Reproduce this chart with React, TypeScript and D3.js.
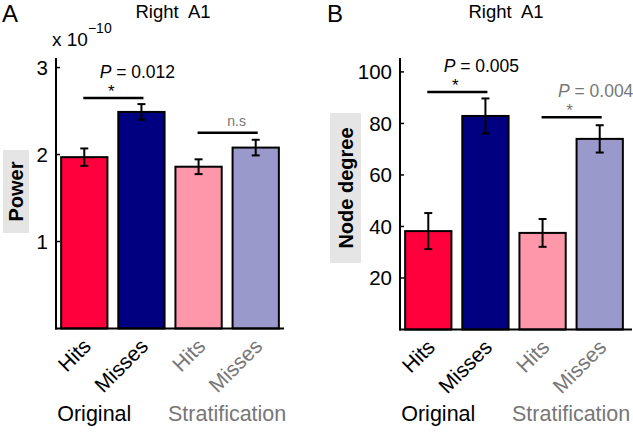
import React from "react";
import * as d3 from "d3";

const categories = ["Hits", "Misses", "Hits", "Misses"];
const groups = ["Original", "Stratification"];
const powerValues = [1.97, 2.49, 1.86, 2.08];
const powerErrors = [0.10, 0.09, 0.085, 0.09];
const powerTicks = [1, 2, 3];
const degreeValues = [38.2, 82.9, 37.5, 74.0];
const degreeErrors = [7.0, 6.8, 5.4, 5.3];
const degreeTicks = [20, 40, 60, 80, 100];
const powerSig = [
  { from: 0, to: 1, level: 2.65, star: true, p: "0.012", grey: false },
  { from: 2, to: 3, level: 2.25, star: false, p: "", grey: true },
];
const degreeSig = [
  { from: 0, to: 1, level: 92.2, star: true, p: "0.005", grey: false },
  { from: 2, to: 3, level: 82.4, star: true, p: "0.004", grey: true },
];

const barColors = ["#FF003C", "#000080", "#FF97AB", "#9999CC"];
const GREY = "#777777";
const FONT = "'Liberation Sans', Arial, Helvetica, sans-serif";

type Sig = { from: number; to: number; level: number; star: boolean; p: string; grey: boolean };

function Panel(props: {
  letter: string;
  letterX: number;
  axisX: number;
  axisEnd: number;
  yTop: number;
  yBase: number;
  yMax: number;
  values: number[];
  errors: number[];
  ticks: number[];
  sig: Sig[];
  ylabel: string;
  labelBox: [number, number, number, number];
  titleX: number;
  exponent: boolean;
}) {
  const { axisX, axisEnd, yTop, yBase, yMax, values, errors, ticks, sig, ylabel, labelBox, titleX } = props;
  const x = d3
    .scaleBand<number>()
    .domain(d3.range(categories.length))
    .range([axisX, axisX + 228])
    .paddingInner(0.19)
    .paddingOuter(0.09);
  const y = d3.scaleLinear().domain([0, yMax]).range([yBase, yTop]);
  const bw = x.bandwidth();
  const cx = (i: number) => (x(i) as number) + bw / 2;
  const [bx, by, bwid, bh] = labelBox;
  return (
    <g fontFamily={FONT}>
      <text x={props.letterX} y={22} fontSize={24}>
        {props.letter}
      </text>
      <text x={titleX} y={18} fontSize={18.5} textAnchor="middle" style={{ whiteSpace: "pre" }}>
        {"Right  A1"}
      </text>
      {props.exponent && (
        <text x={axisX - 4} y={46} fontSize={19}>
          x 10
          <tspan dy={-13} fontSize={14}>
            −10
          </tspan>
        </text>
      )}
      {/* y label box */}
      <rect x={bx} y={by} width={bwid} height={bh} fill="#E5E5E5" />
      <text
        transform={`translate(${bx + bwid / 2 + 7},${by + bh / 2}) rotate(-90)`}
        textAnchor="middle"
        fontSize={20}
        fontWeight="bold"
      >
        {ylabel}
      </text>
      {/* bars */}
      {values.map((v, i) => (
        <rect
          key={i}
          x={x(i)}
          y={y(v)}
          width={bw}
          height={y(0) - y(v)}
          fill={barColors[i]}
          stroke="#000"
          strokeWidth={2}
        />
      ))}
      {/* error bars */}
      {values.map((v, i) => (
        <g key={"e" + i} stroke="#000" strokeWidth={2}>
          <line x1={cx(i)} x2={cx(i)} y1={y(v - errors[i])} y2={y(v + errors[i])} />
          <line x1={cx(i) - 4} x2={cx(i) + 4} y1={y(v - errors[i])} y2={y(v - errors[i])} />
          <line x1={cx(i) - 4} x2={cx(i) + 4} y1={y(v + errors[i])} y2={y(v + errors[i])} />
        </g>
      ))}
      {/* axes */}
      <line x1={axisX} x2={axisX} y1={yTop} y2={yBase + 1} stroke="#000" strokeWidth={2} />
      <line x1={axisX - 1} x2={axisEnd} y1={yBase} y2={yBase} stroke="#000" strokeWidth={2} />
      {ticks.map((t) => (
        <g key={t}>
          <line x1={axisX} x2={axisX + 4} y1={y(t)} y2={y(t)} stroke="#000" strokeWidth={1.5} />
          <text x={axisX - 8} y={y(t)} dy="0.36em" textAnchor="end" fontSize={20.5}>
            {t}
          </text>
        </g>
      ))}
      {/* category labels */}
      {categories.map((c, i) => (
        <text
          key={"c" + i}
          transform={`translate(${cx(i) + 8},${yBase + 19}) rotate(-45)`}
          textAnchor="end"
          fontSize={21}
          fill={i < 2 ? "#000" : GREY}
        >
          {c}
        </text>
      ))}
      <text x={cx(0) + 10} y={421} textAnchor="middle" fontSize={21.5} fill="#000">
        {groups[0]}
      </text>
      <text x={(cx(2) + cx(3)) / 2} y={421} textAnchor="middle" fontSize={21.5} fill={GREY}>
        {groups[1]}
      </text>
      {/* significance */}
      {sig.map((s, k) => {
        const x1 = cx(s.from) - 1;
        const x2 = cx(s.to) + 2;
        const mid = (x1 + x2) / 2;
        const yy = y(s.level);
        const col = s.grey ? GREY : "#000";
        return (
          <g key={"s" + k}>
            <line x1={x1} x2={x2} y1={yy} y2={yy} stroke="#000" strokeWidth={2.5} />
            {s.star && (
              <text x={mid - 2} y={yy - 1} textAnchor="middle" fontSize={17} fill={col}>
                *
              </text>
            )}
            {s.p && (
              <text x={mid + 24} y={yy - 20} textAnchor="middle" fontSize={17.5} fill={col}>
                <tspan fontStyle="italic">P</tspan>
                {" = " + s.p}
              </text>
            )}
            {!s.star && (
              <text x={mid + 9} y={yy - 7} textAnchor="middle" fontSize={14} fill={col}>
                n.s
              </text>
            )}
          </g>
        );
      })}
    </g>
  );
}

export default function App() {
  return (
    <svg
      width={633}
      height={432}
      viewBox="0 0 633 432"
      style={{ position: "absolute", left: 0, top: 0, background: "#fff" }}
    >
      <rect width={633} height={432} fill="#fff" />
      <Panel
        letter="A"
        letterX={2}
        axisX={56}
        axisEnd={284}
        yTop={58}
        yBase={328.5}
        yMax={3.11}
        values={powerValues}
        errors={powerErrors}
        ticks={powerTicks}
        sig={powerSig}
        ylabel="Power"
        labelBox={[3, 150, 26, 83]}
        titleX={173}
        exponent={true}
      />
      <Panel
        letter="B"
        letterX={327}
        axisX={400}
        axisEnd={632}
        yTop={58}
        yBase={329.5}
        yMax={105.4}
        values={degreeValues}
        errors={degreeErrors}
        ticks={degreeTicks}
        sig={degreeSig}
        ylabel="Node degree"
        labelBox={[330, 113, 31, 150]}
        titleX={506}
        exponent={false}
      />
    </svg>
  );
}
